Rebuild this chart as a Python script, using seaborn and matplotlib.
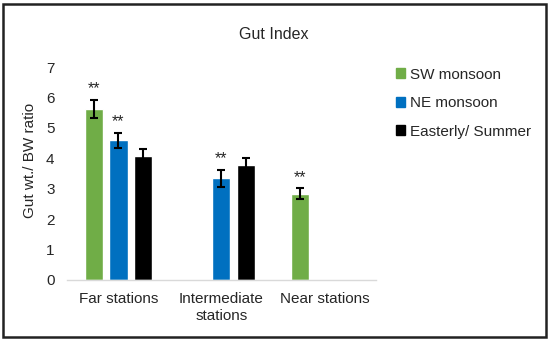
import pandas as pd
import matplotlib.pyplot as plt
import seaborn as sns
from matplotlib.patches import Patch, Rectangle

stations = ["Far stations", "Intermediate\nstations", "Near stations"]
seasons = ["SW monsoon", "NE monsoon", "Easterly/ Summer"]
colors = ["#70ad47", "#0070c0", "#000000"]

# None = no bar for that season/station
sw_vals = [5.62, None, 2.83]
sw_err = [0.30, None, 0.18]
ne_vals = [4.59, 3.34, None]
ne_err = [0.25, 0.27, None]
ea_vals = [4.08, 3.77, None]
ea_err = [0.21, 0.24, None]

stars = {("SW monsoon", 0), ("NE monsoon", 0), ("NE monsoon", 1), ("SW monsoon", 2)}

rows = []
for season, vals, errs in zip(seasons, [sw_vals, ne_vals, ea_vals], [sw_err, ne_err, ea_err]):
    for st, v, e in zip(stations, vals, errs):
        if v is not None:
            rows.append({"Station": st, "Season": season, "Ratio": v, "Err": e})
df = pd.DataFrame(rows)

sns.set_style("white")
plt.rcParams["font.family"] = ["Liberation Sans", "DejaVu Sans"]

fig = plt.figure(figsize=(5.5, 3.41), dpi=100)
ax = fig.add_axes([0.1218, 0.1789, 0.5618, 0.6246])

sns.barplot(data=df, x="Station", y="Ratio", hue="Season", order=stations,
            hue_order=seasons, palette=colors, width=0.70, gap=0.25,
            errorbar=None, ax=ax, legend=False, saturation=1)

# error bars + significance stars
for season, cont in zip(seasons, ax.containers):
    for p in cont.patches:
        cx = p.get_x() + p.get_width() / 2
        h = p.get_height()
        cat = int(round(cx))
        err = df[(df.Season == season) & (df.Station == stations[cat])]["Err"].iloc[0]
        ax.errorbar(cx, h, yerr=err, fmt="none", ecolor="black",
                    elinewidth=1.5, capsize=3, capthick=1.5)
        if (season, cat) in stars:
            ax.text(cx, h + err + 0.12, "**", ha="center", va="bottom", fontsize=11.5)

ax.set_ylim(0, 7)
ax.set_xlim(-0.5, 2.5)
ax.set_yticks(range(0, 8))
ax.tick_params(axis="both", length=0, labelsize=11)
ax.tick_params(axis="x", pad=9)
ax.tick_params(axis="y", pad=9)
ax.set_xlabel("")
ax.set_ylabel("Gut wt./ BW ratio", fontsize=11)
ax.yaxis.set_label_coords(-0.097, 0.563)
for s in ["top", "right", "left"]:
    ax.spines[s].set_visible(False)
ax.spines["bottom"].set_color("#d9d9d9")
ax.spines["bottom"].set_linewidth(1)

fig.text(0.498, 0.898, "Gut Index", ha="center", va="center", fontsize=11.5)

handles = [Patch(color=c, label=s) for c, s in zip(colors, seasons)]
fig.legend(handles=handles, loc="upper left", bbox_to_anchor=(0.695, 0.842),
           frameon=False, fontsize=11, handlelength=0.6, handleheight=0.6,
           handletextpad=0.3, labelspacing=0.95)

fig.patches.append(Rectangle((0.006, 0.012), 0.986, 0.976, transform=fig.transFigure,
                             fill=False, edgecolor="#222222", linewidth=1.8))

fig.savefig("out.png", dpi=100)
